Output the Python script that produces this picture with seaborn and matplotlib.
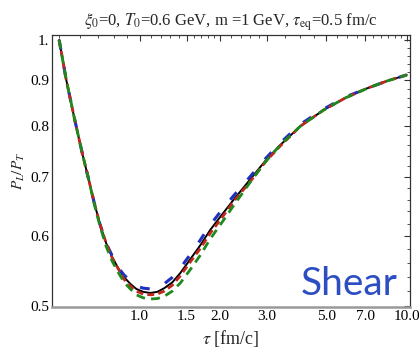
import numpy as np
import pandas as pd
import matplotlib
matplotlib.use("Agg")
import matplotlib.pyplot as plt
import seaborn as sns
from matplotlib.ticker import FixedLocator, FixedFormatter, NullFormatter

# ---- data ----
tau = [0.5, 0.531, 0.569, 0.610, 0.643, 0.677, 0.712, 0.750, 0.790, 0.832, 0.876,
       0.923, 0.972, 1.032, 1.097, 1.165, 1.237, 1.326, 1.420, 1.548, 1.688, 1.840,
       2.005, 2.243, 2.598, 2.957, 3.365, 4.000, 4.876, 5.892, 7.125, 8.467, 10.0]
black = [1.000, 0.903, 0.818, 0.745, 0.698, 0.654, 0.618, 0.589, 0.568, 0.552, 0.539,
         0.530, 0.523, 0.519, 0.5175, 0.519, 0.524, 0.532, 0.545, 0.565, 0.586, 0.610,
         0.631, 0.659, 0.696, 0.730, 0.761, 0.799, 0.833, 0.860, 0.882, 0.899, 0.913]
red = [1.000, 0.903, 0.818, 0.745, 0.698, 0.654, 0.618, 0.589, 0.567, 0.551, 0.536,
       0.527, 0.520, 0.516, 0.515, 0.516, 0.520, 0.528, 0.541, 0.561, 0.581, 0.605,
       0.626, 0.656, 0.692, 0.728, 0.759, 0.799, 0.833, 0.860, 0.882, 0.899, 0.913]
blue = [1.000, 0.903, 0.818, 0.745, 0.698, 0.654, 0.618, 0.589, 0.570, 0.553, 0.542,
        0.534, 0.527, 0.524, 0.523, 0.524, 0.530, 0.539, 0.552, 0.572, 0.594, 0.618,
        0.639, 0.666, 0.701, 0.734, 0.765, 0.803, 0.835, 0.862, 0.882, 0.899, 0.913]
green = [1.000, 0.903, 0.818, 0.745, 0.698, 0.652, 0.615, 0.584, 0.562, 0.546, 0.532,
         0.523, 0.515, 0.511, 0.5095, 0.510, 0.513, 0.520, 0.531, 0.550, 0.571, 0.596,
         0.618, 0.649, 0.691, 0.728, 0.761, 0.799, 0.833, 0.860, 0.882, 0.899, 0.913]

xticks = [1.0, 1.5, 2.0, 3.0, 5.0, 7.0, 10.0]
xticklabels = ["1.0", "1.5", "2.0", "3.0", "5.0", "7.0", "10.0"]
yticks = [0.5, 0.6, 0.7, 0.8, 0.9, 1.0]
yticklabels = ["0.5", "0.6", "0.7", "0.8", "0.9", "1."]

sns.set_style("white")
plt.rcParams['font.family'] = ['Liberation Serif', 'DejaVu Serif']
plt.rcParams['mathtext.fontset'] = 'stix'

fig = plt.figure(figsize=(4.19, 3.5), dpi=100)
ax = fig.add_axes([0.124, 0.123, 0.855, 0.777])

series = [("black", black, "k", 1.4, None),
          ("blue", blue, "#1f2fbf", 2.2, (3.2, 5.5)),
          ("red", red, "#c0281e", 2.0, (2.5, 1.5)),
          ("green", green, "#1e8a1e", 2.0, (3.2, 2.2))]
for name, vals, col, lw, dash in series:
    df = pd.DataFrame({"tau": tau, "P": vals})
    sns.lineplot(data=df, x="tau", y="P", color=col, lw=lw, ax=ax, sort=False)
    if dash is not None:
        ax.lines[-1].set_dashes(dash)

ax.set_xscale("log")
ax.set_yscale("log")
ax.set_xlim(0.47, 10.3)
ax.set_ylim(0.499, 1.013)

ax.xaxis.set_major_locator(FixedLocator(xticks))
ax.xaxis.set_major_formatter(FixedFormatter(xticklabels))
xminor = [0.5, 0.6, 0.7, 0.8, 0.9, 1.1, 1.2, 1.3, 1.4, 1.6, 1.7, 1.8, 1.9,
          2.2, 2.4, 2.6, 2.8, 3.5, 4.0, 4.5, 5.5, 6.0, 6.5, 7.5, 8.0, 8.5, 9.0, 9.5]
ax.xaxis.set_minor_locator(FixedLocator(xminor))
ax.xaxis.set_minor_formatter(NullFormatter())
ax.yaxis.set_major_locator(FixedLocator(yticks))
ax.yaxis.set_major_formatter(FixedFormatter(yticklabels))
yminor = [0.52, 0.54, 0.56, 0.58, 0.62, 0.64, 0.66, 0.68, 0.72, 0.74, 0.76, 0.78,
          0.82, 0.84, 0.86, 0.88, 0.92, 0.94, 0.96, 0.98]
ax.yaxis.set_minor_locator(FixedLocator(yminor))
ax.yaxis.set_minor_formatter(NullFormatter())

ax.tick_params(which="both", direction="in", top=True, right=True,
               labelsize=11, colors="#333333", labelcolor="black", pad=2)
ax.tick_params(which="major", length=4, width=0.8)
ax.tick_params(which="minor", length=2, width=0.6)

for s in ["left", "top", "right"]:
    ax.spines[s].set_color("#333333")
    ax.spines[s].set_linewidth(0.9)
ax.spines["bottom"].set_color("#999999")
ax.spines["bottom"].set_linewidth(1.8)

ax.set_xlabel(r"$\tau$ [fm/c]", fontsize=13, labelpad=4)
ax.set_ylabel(r"$P_L/P_T$", fontsize=11, labelpad=2)
ax.set_title(r"$\xi_0$=0, $T_0$=0.6 GeV, m =1 GeV, $\tau_{\rm eq}$=0.5 fm/c",
             fontsize=12, pad=7)

ax.text(0.966, 0.044, "Shear", transform=ax.transAxes, ha="right", va="baseline",
        fontsize=28, color="#2d4ec3", family="Lato")

fig.savefig("out.png", dpi=100)
